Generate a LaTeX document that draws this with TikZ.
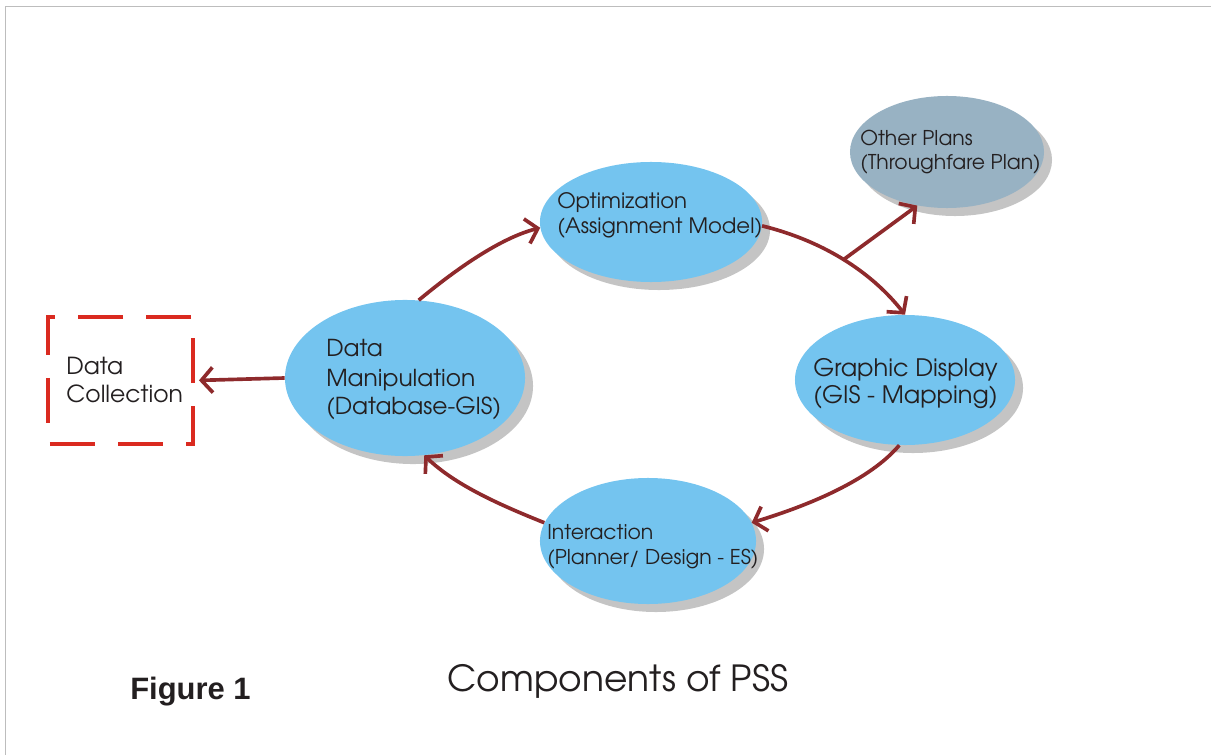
\documentclass[tikz,border=0pt]{standalone}
\usepackage{fontspec}
\usetikzlibrary{arrows.meta,shapes.geometric,shadows}
\newfontfamily\agfont{texgyreadventor-regular.otf}
\newfontfamily\arialfont{Liberation Sans}
\definecolor{skyfill}{HTML}{74C4EF}
\definecolor{planfill}{HTML}{98B2C3}
\definecolor{shadowgray}{HTML}{C4C4C4}
\definecolor{arrowred}{HTML}{8E2A2C}
\definecolor{boxred}{HTML}{DA2A20}
\definecolor{textdark}{HTML}{231F20}
\definecolor{framegray}{HTML}{BDBDBD}
\tikzset{
  bubble/.style={ellipse, fill=skyfill, inner sep=0pt,
    drop shadow={shadow xshift=0.2cm, shadow yshift=-0.2cm, opacity=1, fill=shadowgray}},
  flow/.style={draw=arrowred, line width=2.6pt, -{Straight Barb[length=8pt,width=18pt]}},
  lbl/.style={anchor=base west, inner sep=0pt, text=textdark},
}
\begin{document}
\begin{tikzpicture}[x=0.025cm,y=-0.025cm]
\useasboundingbox (0,0) rectangle (1211,755);
% frame lines
\draw[framegray, line width=0.7pt] (5,755) -- (5,6) -- (1211,6);

% ellipses
\node[bubble, minimum width=5.55cm, minimum height=3.0cm] (opt) at (651,222) {};
\node[bubble, fill=planfill, minimum width=4.85cm, minimum height=2.8cm] (op) at (947,152) {};
\node[bubble, minimum width=6.0cm, minimum height=3.9cm] (dm) at (405,378) {};
\node[bubble, minimum width=5.5cm, minimum height=3.25cm] (gd) at (905,380) {};
\node[bubble, minimum width=5.4cm, minimum height=3.15cm] (inter) at (648,541) {};

% dashed box
\node[draw=boxred, line width=2.8pt, rectangle, minimum width=3.625cm, minimum height=3.175cm,
  dash pattern=on 1.125cm off 0.575cm, dash phase=1.65cm] (dc) at (120.5,380.5) {};

% texts
\node[lbl, font=\agfont\fontsize{16.7}{20}\selectfont] (dc1) at (66,374) {Data};
\node[lbl, font=\agfont\fontsize{16.7}{20}\selectfont] (dc2) at (66,402) {Collection};

\node[lbl, font=\agfont\fontsize{15.1}{19}\selectfont] (opt1) at (557,208) {Optimization};
\node[lbl, font=\agfont\fontsize{15.1}{19}\selectfont] (opt2) at (557,234) {(Assignment Model)};

\node[lbl, font=\agfont\fontsize{14.5}{18}\selectfont] (op1) at (860,146) {Other Plans};
\node[lbl, font=\agfont\fontsize{14.5}{18}\selectfont] (op2) at (860,170) {(Throughfare Plan)};

\node[lbl, font=\agfont\fontsize{16.6}{20}\selectfont] (dm1) at (326,356) {Data};
\node[lbl, font=\agfont\fontsize{16.6}{20}\selectfont] (dm2) at (326,386) {Manipulation};
\node[lbl, font=\agfont\fontsize{16.6}{20}\selectfont] (dm3) at (326,414) {(Database-GIS)};

\node[lbl, font=\agfont\fontsize{17.1}{20}\selectfont] (gd1) at (813,376) {Graphic Display};
\node[lbl, font=\agfont\fontsize{17.1}{20}\selectfont] (gd2) at (813,403) {(GIS - Mapping)};

\node[lbl, font=\agfont\fontsize{14.5}{18}\selectfont] (in1) at (547,539) {Interaction};
\node[lbl, font=\agfont\fontsize{14.5}{18}\selectfont] (in2) at (547,564) {(Planner/ Design - ES)};

\node[lbl, font=\arialfont\bfseries\fontsize{22}{26}\selectfont] (fig) at (130,699) {Figure 1};
\node[lbl, font=\agfont\fontsize{25.6}{30}\selectfont] (cap) at (447,691) {Components of PSS};

% connectors
\coordinate (br) at (843,260);
\draw[flow] (dm.80) .. controls (455,270) and (500,238) .. (opt.183);
\draw[flow] (opt.-2) .. controls (820,240) and (870,270) .. (gd.90);
\draw[flow] (br) -- (op.241);
\draw[flow] (gd.265) .. controls (870,480) and (810,505) .. (inter.10);
\draw[flow] (inter.170) .. controls (500,505) and (455,485) .. (dm.284);
\draw[flow, shorten >=0.1cm] (dm.west) -- (dc.east);
\end{tikzpicture}
\end{document}
